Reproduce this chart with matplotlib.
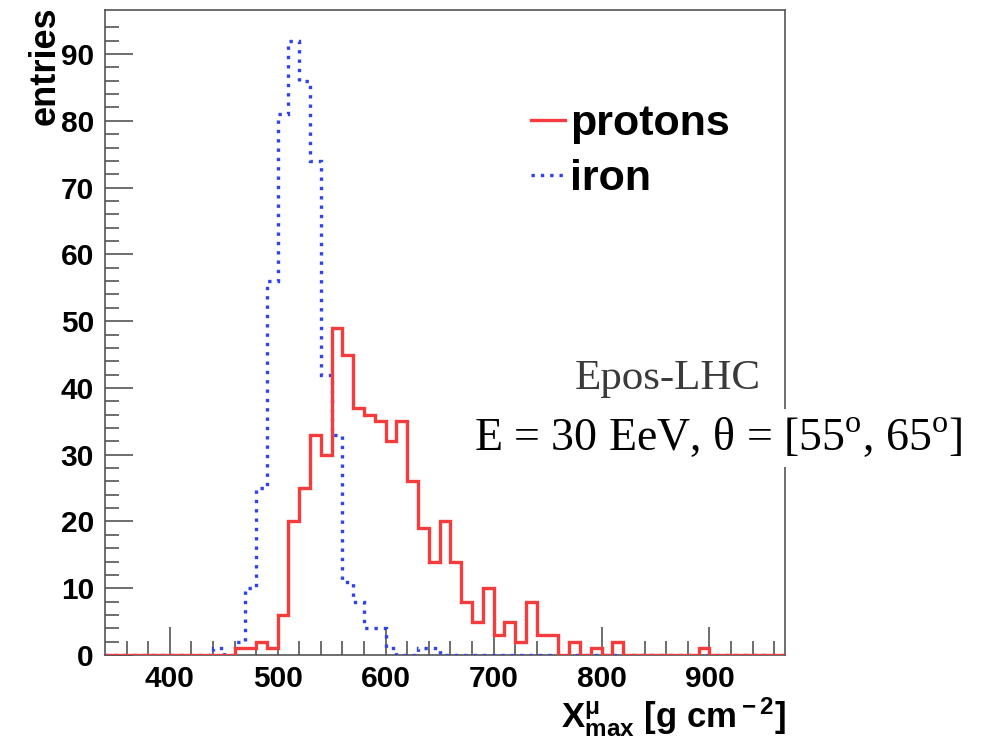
import numpy as np
import matplotlib
matplotlib.use("Agg")
import matplotlib.pyplot as plt
from matplotlib.lines import Line2D

plt.rcParams['mathtext.fontset'] = 'custom'
plt.rcParams['mathtext.rm'] = 'Liberation Sans:bold'
plt.rcParams['mathtext.it'] = 'Liberation Sans:bold'
plt.rcParams['mathtext.bf'] = 'Liberation Sans:bold'
plt.rcParams['mathtext.sf'] = 'Liberation Serif'

# ---- data ----
bin_edges = np.arange(340, 980, 10)  # 63 bins of 10 g/cm2 from 340 to 970

# counts per bin (low edge 340, 350, ..., 960)
protons = [0, 0, 0, 0, 0, 0, 0, 0, 0, 0, 0, 0,          # 340-450
           1, 1, 2, 1, 6, 20, 25, 33, 30, 49,            # 460-550
           45, 37, 36, 35, 32, 35, 26, 19, 14, 20,       # 560-650
           14, 8, 5, 10, 3, 5, 2, 8, 3, 3,               # 660-750
           0, 2, 0, 1, 0, 2, 0, 0, 0, 0,                 # 760-850
           0, 0, 0, 1, 0, 0, 0, 0, 0, 0, 0]              # 860-960
iron = [0, 0, 0, 0, 0, 0, 0, 0, 0, 0,                    # 340-430
        1, 0, 2, 10, 25, 56, 81, 92, 86, 74,             # 440-530
        42, 33, 11, 8, 4, 4, 1, 0, 0, 1,                 # 540-630
        1, 0, 0, 0, 0, 0, 0, 0, 0, 0,                    # 640-730
        0, 0, 0, 0, 0, 0, 0, 0, 0, 0,                    # 740-830
        0, 0, 0, 0, 0, 0, 0, 0, 0, 0, 0, 0, 0]           # 840-960

series_labels = ["protons", "iron"]
x_major = [400, 500, 600, 700, 800, 900]
y_major = [0, 10, 20, 30, 40, 50, 60, 70, 80, 90]

RED = '#f53b3b'
BLUE = '#2f42f0'
FRAME = '#555555'

fig = plt.figure(figsize=(9.86, 7.37), dpi=100)
ax = fig.add_axes([105/986, 1-655/737, (785-105)/986, (655-10)/737])

ax.stairs(iron, bin_edges, color=BLUE, linewidth=2.4, linestyle=(0, (1, 1.8)), zorder=3)
ax.stairs(protons, bin_edges, color=RED, linewidth=2.4, zorder=4)

ax.set_xlim(340, 970)
ax.set_ylim(0, 1.05 * max(iron))

ax.set_xticks(x_major)
ax.set_xticks(np.arange(360, 970, 20), minor=True)
ax.set_yticks(y_major)
ax.set_yticks(np.arange(0, 96, 2), minor=True)
ax.tick_params(which='both', direction='in', color=FRAME, width=1.2,
               top=False, right=False)
ax.tick_params(which='major', length=20)
ax.tick_params(which='minor', length=10)
ax.tick_params(axis='x', pad=7)
ax.tick_params(axis='y', pad=8)
for lab in ax.get_xticklabels() + ax.get_yticklabels():
    lab.set_fontfamily('Liberation Sans')
    lab.set_fontweight('bold')
    lab.set_fontsize(21.5)
for sp in ax.spines.values():
    sp.set_color(FRAME)
    sp.set_linewidth(1.2)

# legend
handles = [Line2D([], [], color=RED, linewidth=2.4),
           Line2D([], [], color=BLUE, linewidth=2.4, linestyle=(0, (1, 1.8)))]
leg = ax.legend(handles, series_labels, loc='upper left',
                bbox_to_anchor=(531/986, 1-104/737), bbox_transform=fig.transFigure,
                frameon=False, handlelength=0.8, handletextpad=0.1,
                labelspacing=0.34, borderpad=0, borderaxespad=0,
                prop={'family': 'Liberation Sans', 'weight': 'bold', 'size': 31})

# annotations
fig.text(668/986, 1-389/737, 'Epos-LHC', ha='center', va='baseline',
         fontfamily='Liberation Serif', fontsize=31, color='#3a3a3a')
fig.text(474/986, 1-450/737,
         r'E = 30 EeV, θ = [55$^{\mathsf{o}}$, 65$^{\mathsf{o}}$]',
         ha='left', va='baseline', fontfamily='Liberation Serif', fontsize=33,
         color='black',
         bbox=dict(facecolor='white', edgecolor='none', pad=5))

# axis titles
fig.text(45/986, 1-6/737, 'entries', rotation=90, ha='center', va='top',
         fontfamily='Liberation Sans', fontweight='bold', fontsize=26)
fig.text(786/986, 1-727/737, r'X$^{\mu}_{\rm max}$ [g cm$^{\rm -2}$]',
         ha='right', va='baseline', fontfamily='Liberation Sans',
         fontweight='bold', fontsize=25)

fig.savefig('out.png', dpi=100)
